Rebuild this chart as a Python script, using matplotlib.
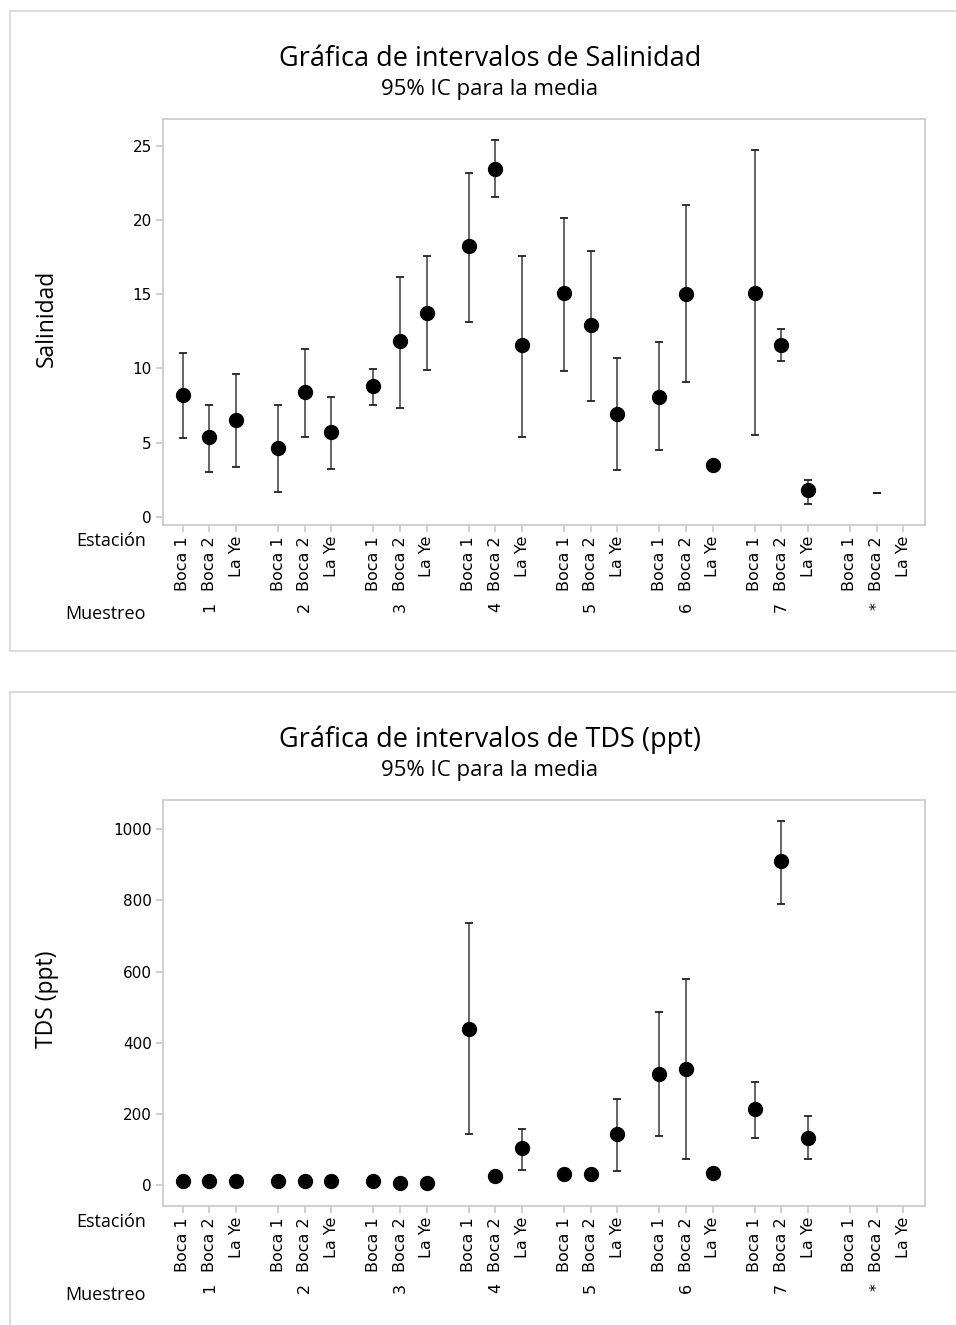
import numpy as np
import matplotlib.pyplot as plt
from matplotlib.patches import Rectangle

# grouping: Muestreo (outer) x Estación (inner)
muestreos = ['1', '2', '3', '4', '5', '6', '7', '*']
estaciones = ['Boca 1', 'Boca 2', 'La Ye']

nan = np.nan
# Salinidad: mean, lower and upper 95% CI, flattened by muestreo then estacion
sal_mean = [8.2, 5.4, 6.5,  4.6, 8.4, 5.7,  8.8, 11.85, 13.75,
            18.25, 23.45, 11.6,  15.1, 12.95, 6.95,  8.1, 15.0, 3.5,
            15.1, 11.6, 1.8,  nan, nan, nan]
sal_low = [5.3, 3.0, 3.35,  1.65, 5.4, 3.25,  7.5, 7.3, 9.9,
           13.1, 21.55, 5.4,  9.85, 7.8, 3.15,  4.5, 9.05, nan,
           5.5, 10.5, 0.85,  nan, 1.6, nan]
sal_high = [11.05, 7.5, 9.6,  7.5, 11.3, 8.1,  9.95, 16.15, 17.55,
            23.2, 25.4, 17.6,  20.15, 17.95, 10.7,  11.75, 21.0, nan,
            24.75, 12.65, 2.45,  nan, 1.6, nan]

# TDS (ppt)
tds_mean = [11, 11, 11,  11, 11, 11,  11, 5, 5,
            438, 25, 105,  30, 30, 142,  312, 326, 35,
            213, 910, 133,  nan, nan, nan]
tds_low = [nan, nan, nan,  nan, nan, nan,  nan, nan, nan,
           142, nan, 42,  nan, nan, 39,  139, 72, nan,
           133, 790, 72,  nan, nan, nan]
tds_high = [nan, nan, nan,  nan, nan, nan,  nan, nan, nan,
            736, nan, 157,  nan, nan, 241,  486, 579, nan,
            290, 1023, 194,  nan, nan, nan]

W, H = 956, 1325
group_step = 3.57
xpos = np.array([g * group_step + j for g in range(len(muestreos)) for j in range(len(estaciones))])
xlabels = estaciones * len(muestreos)

title_font = 'Open Sans'
grey = '#c4c4c4'

fig = plt.figure(figsize=(W / 100, H / 100), dpi=100)


def fx(px):
    return px / W


def fy(py):
    return 1 - py / H


def panel(top, title, ylabel, mean, low, high, ylim, yticks):
    # light frame around each chart
    fig.patches.append(Rectangle((fx(10), fy(top + 640)), fx(960), 640 / H,
                                 transform=fig.transFigure, fill=False,
                                 edgecolor='#d5d5d5', lw=1.2))
    ax = fig.add_axes([fx(163), fy(top + 514), fx(762), 406 / H])
    mean = np.array(mean, dtype=float)
    low = np.array(low, dtype=float)
    high = np.array(high, dtype=float)

    has_ci = ~np.isnan(low)
    ax.vlines(xpos[has_ci], low[has_ci], high[has_ci], color='#3a3a3a', lw=1.1, zorder=2)
    ax.plot(xpos[has_ci], low[has_ci], ls='none', marker='_', ms=6, mew=1.3, color='#222222', zorder=2)
    ax.plot(xpos[has_ci], high[has_ci], ls='none', marker='_', ms=6, mew=1.3, color='#222222', zorder=2)
    ax.plot(xpos, mean, ls='none', marker='o', ms=10, color='black', zorder=3)

    ax.set_xlim(-0.74, 27.8)
    ax.set_ylim(*ylim)
    ax.set_yticks(yticks)
    ax.set_yticklabels([str(t) for t in yticks], fontsize=11)
    ax.set_xticks(xpos)
    ax.set_xticklabels(xlabels, rotation=90, fontsize=11.5, va='top')
    for s in ax.spines.values():
        s.set_color(grey)
        s.set_linewidth(1.1)
    ax.tick_params(axis='both', colors=grey, length=5, width=1.1, labelcolor='black', pad=3)

    fig.text(fx(490), fy(top + 47.5), title, family=title_font, fontsize=19.5,
             ha='center', va='center')
    fig.text(fx(490), fy(top + 78.5), '95% IC para la media', family=title_font, fontsize=16,
             ha='center', va='center')
    fig.text(fx(47), fy(top + 307), ylabel, family=title_font, fontsize=16.5,
             ha='center', va='center', rotation=90)
    fig.text(fx(146), fy(top + 530), 'Estación', family=title_font, fontsize=13,
             ha='right', va='center')
    fig.text(fx(146), fy(top + 603), 'Muestreo', family=title_font, fontsize=13,
             ha='right', va='center')
    for g, m in enumerate(muestreos):
        ax.text(g * group_step + 1, -0.19, m, transform=ax.get_xaxis_transform(),
                rotation=90, ha='center', va='top', fontsize=11.5)
    return ax


panel(11, 'Gráfica de intervalos de Salinidad', 'Salinidad',
      sal_mean, sal_low, sal_high, (-0.56, 26.82), [0, 5, 10, 15, 20, 25])
panel(692, 'Gráfica de intervalos de TDS (ppt)', 'TDS (ppt)',
      tds_mean, tds_low, tds_high, (-59, 1082), [0, 200, 400, 600, 800, 1000])

fig.savefig('out.png', dpi=100)
